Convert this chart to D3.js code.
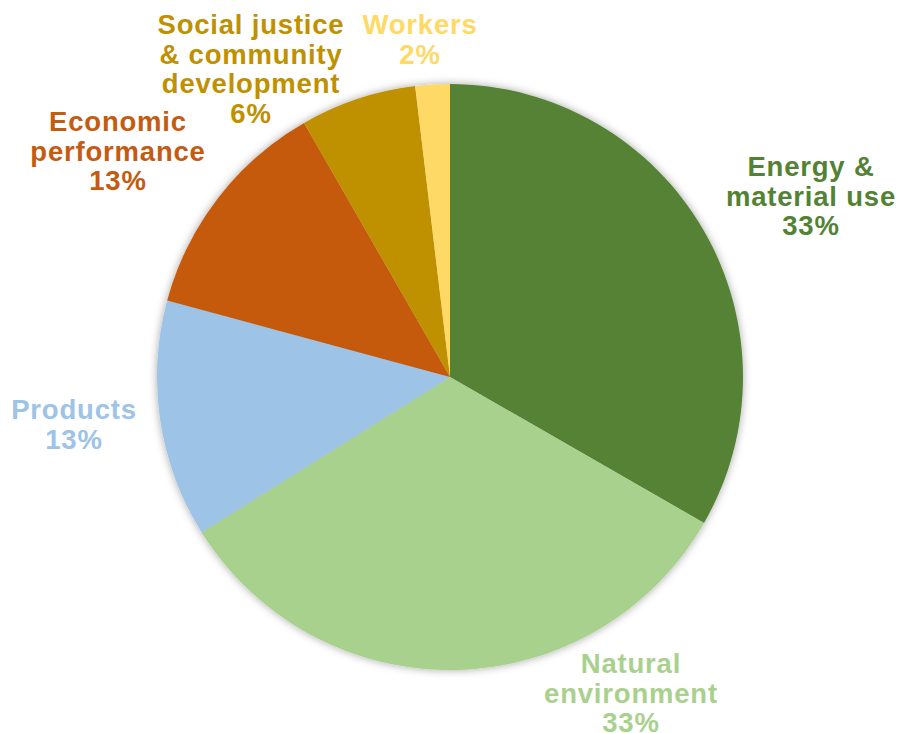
<!DOCTYPE html>
<html>
<head>
<meta charset="utf-8">
<script src="https://cdn.jsdelivr.net/npm/d3@7"></script>
<style>
  html, body { margin: 0; padding: 0; background: #fff; }
  text { font-family: 'Liberation Sans', Arial, Helvetica, sans-serif; font-weight: bold; }
</style>
</head>
<body>
<div id="chart"></div>
<script>
const categories = [
  ['Energy &', 'material use'],
  ['Natural', 'environment'],
  ['Products'],
  ['Economic', 'performance'],
  ['Social justice', '& community', 'development'],
  ['Workers']
]
const values = [33.3, 32.8, 13.1, 12.5, 6.4, 1.9]
const colors = ['#548235', '#a9d18e', '#9dc3e6', '#c55a11', '#bf9000', '#ffd966']

// label anchor (centre x, first baseline) for each slice, Excel "best fit" style
const labelAnchors = [[811, 176], [631, 673], [74, 419], [118, 131], [251, 34], [420, 34]]

const width = 899
const height = 733
const cx = 450
const cy = 377
const radius = 293
const lineH = 29.5

const svg = d3.select('#chart').append('svg')
  .attr('width', width)
  .attr('height', height)

const defs = svg.append('defs')
const filter = defs.append('filter').attr('id', 'shadow')
  .attr('x', '-10%').attr('y', '-10%').attr('width', '120%').attr('height', '120%')
filter.append('feDropShadow')
  .attr('dx', 0).attr('dy', 0)
  .attr('stdDeviation', 4)
  .attr('flood-color', '#000')
  .attr('flood-opacity', 0.35)

const pie = d3.pie().sort(null).value(d => d)
const arc = d3.arc().innerRadius(0).outerRadius(radius)
const total = d3.sum(values)

const g = svg.append('g')
  .attr('transform', `translate(${cx},${cy})`)
  .attr('filter', 'url(#shadow)')

g.selectAll('path')
  .data(pie(values))
  .enter().append('path')
  .attr('d', arc)
  .attr('fill', (d, i) => colors[i])

const labels = svg.append('g')
  .selectAll('text')
  .data(categories)
  .enter().append('text')
  .attr('text-anchor', 'middle')
  .attr('font-size', 27.5)
  .attr('letter-spacing', 0.8)
  .attr('fill', (d, i) => colors[i])

labels.each(function (lines, i) {
  const t = d3.select(this)
  const all = lines.concat([Math.round(values[i] / total * 100) + '%'])
  all.forEach((s, k) => {
    t.append('tspan')
      .attr('x', labelAnchors[i][0])
      .attr('y', labelAnchors[i][1] + k * lineH)
      .text(s)
  })
})
</script>
</body>
</html>
